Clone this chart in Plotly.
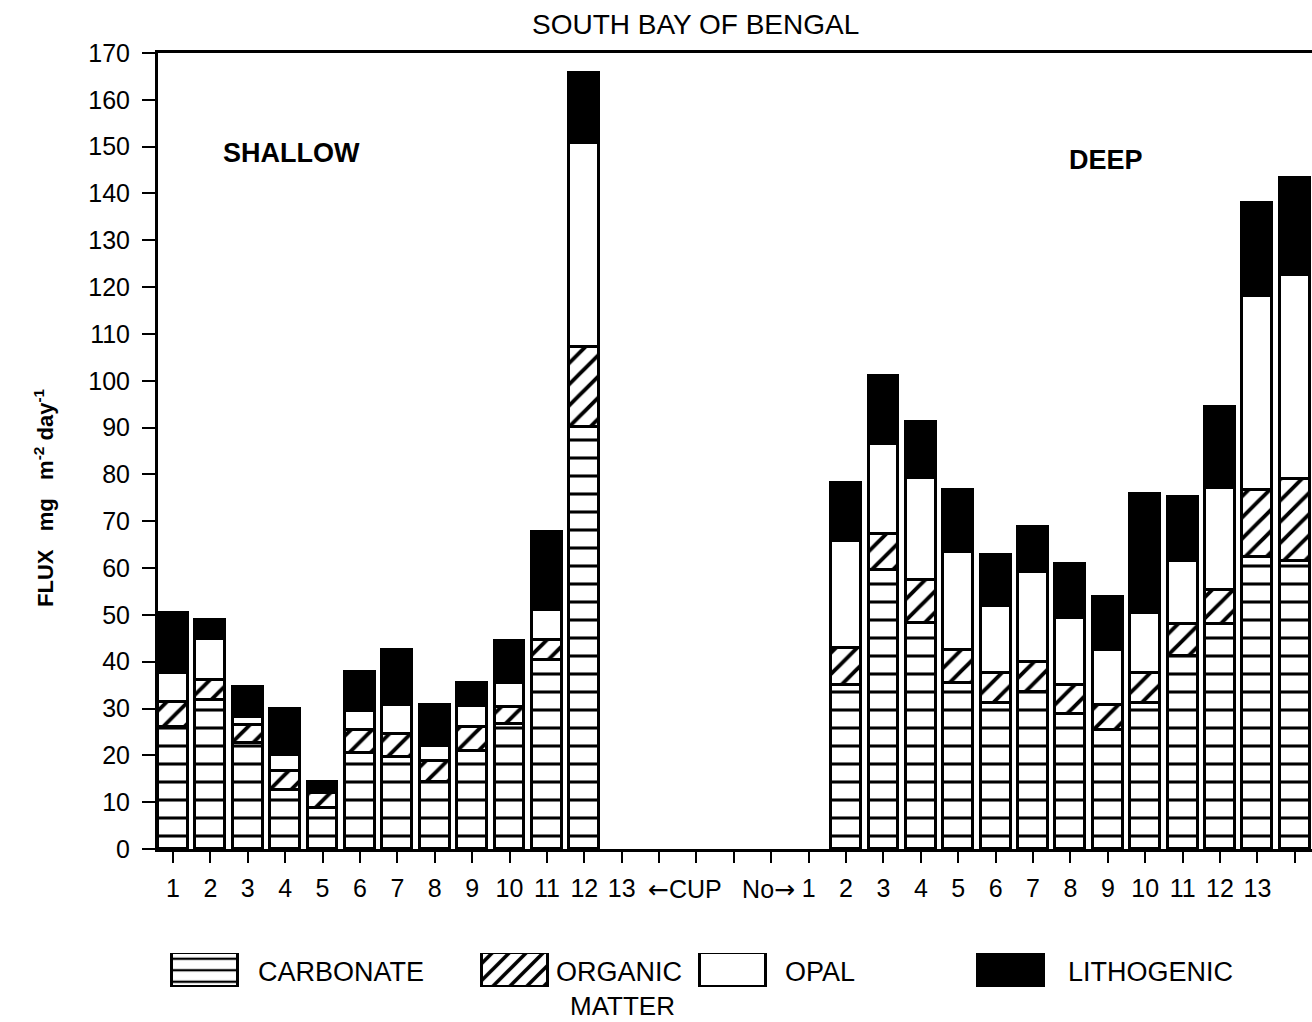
import plotly.graph_objects as go

# ---------------- data (mg m-2 day-1) ----------------
shallow_cups = [1, 2, 3, 4, 5, 6, 7, 8, 9, 10, 11, 12]
shallow_carbonate = [26.1, 31.8, 22.6, 12.7, 8.7, 20.4, 19.7, 14.4, 21.0, 26.8, 40.4, 90.2]
shallow_organic   = [5.2, 4.4, 3.9, 4.0, 3.2, 5.0, 4.9, 4.3, 5.1, 3.6, 4.2, 17.1]
shallow_opal      = [6.2, 8.6, 1.6, 3.4, 0.4, 4.1, 6.1, 3.4, 4.4, 5.0, 6.4, 43.4]
shallow_litho     = [12.8, 4.2, 6.6, 9.8, 2.0, 8.4, 11.8, 8.7, 4.9, 9.0, 16.7, 15.1]

deep_cups = [1, 2, 3, 4, 5, 6, 7, 8, 9, 10, 11, 12, 13]
deep_carbonate = [35.0, 59.5, 48.2, 35.5, 31.1, 33.6, 28.8, 25.4, 31.2, 41.3, 48.1, 62.3, 61.6]
deep_organic   = [8.0, 7.8, 9.3, 6.9, 6.4, 6.4, 6.2, 5.3, 6.3, 6.8, 7.2, 14.3, 17.4]
deep_opal      = [22.8, 19.2, 21.8, 21.1, 14.4, 19.1, 14.3, 11.8, 13.0, 13.5, 21.8, 41.4, 43.5]
deep_litho     = [12.4, 14.5, 11.9, 13.2, 10.9, 9.6, 11.6, 11.4, 25.3, 13.6, 17.4, 20.0, 20.8]

shallow_tick_labels = [str(i) for i in range(1, 14)]
deep_tick_labels = [str(i) for i in range(1, 14)]

component_names = ["CARBONATE", "ORGANIC<br>MATTER", "OPAL", "LITHOGENIC"]

# ---------------- layout constants ----------------
W, H = 1312, 1022
DEEP_BAR_OFFSET = 18      # deep bar k drawn at slot k + 18
DEEP_LABEL_OFFSET = 17    # deep label k drawn at slot k + 17
FONT = "Liberation Sans Narrow, Liberation Sans, Arial, sans-serif"
FONT_W = "Liberation Sans, Arial, sans-serif"

x_pos = shallow_cups + [c + DEEP_BAR_OFFSET for c in deep_cups]
series = [
    shallow_carbonate + deep_carbonate,
    shallow_organic + deep_organic,
    shallow_opal + deep_opal,
    shallow_litho + deep_litho,
]
patterns = [
    dict(shape="-", size=18, solidity=0.17, fgcolor="black", bgcolor="white", fillmode="replace"),
    dict(shape="/", size=15, solidity=0.26, fgcolor="black", bgcolor="white", fillmode="replace"),
    dict(shape="", bgcolor="white"),
    dict(shape="", bgcolor="black"),
]
fills = ["white", "white", "white", "black"]

fig = go.Figure()
for name, vals, pat, fc in zip(component_names, series, patterns, fills):
    fig.add_trace(go.Bar(
        x=x_pos, y=vals, name=name, width=0.8,
        marker=dict(color=fc, pattern=pat, line=dict(color="black", width=3)),
        showlegend=False,
    ))

# legend swatches drawn as bars on a hidden inset axis (pixel units)
legend_centers = [205, 514.5, 733, 1011]
legend_patterns = [
    dict(shape="-", size=11.5, solidity=0.2, fgcolor="black", bgcolor="white", fillmode="replace"),
    dict(shape="/", size=12, solidity=0.3, fgcolor="black", bgcolor="white", fillmode="replace"),
    dict(shape="", bgcolor="white"),
    dict(shape="", bgcolor="black"),
]
for cx, pat, fc in zip(legend_centers, legend_patterns, fills):
    fig.add_trace(go.Bar(
        x=[cx], y=[1], width=66, xaxis="x2", yaxis="y2",
        marker=dict(color=fc, pattern=pat, line=dict(color="black", width=3)),
        showlegend=False, hoverinfo="skip",
    ))

tickvals = list(range(1, 32))
ticktext = []
for v in tickvals:
    if 1 <= v <= 13:
        ticktext.append(shallow_tick_labels[v - 1])
    elif 1 <= v - DEEP_LABEL_OFFSET <= 13:
        ticktext.append(deep_tick_labels[v - DEEP_LABEL_OFFSET - 1])
    else:
        ticktext.append("")

def px_x(p):
    return p / W

def px_y(p):
    return (H - p) / H

fig.update_layout(
    width=W, height=H,
    margin=dict(l=0, r=0, t=0, b=0, autoexpand=False),
    paper_bgcolor="white", plot_bgcolor="white",
    barmode="stack", bargap=0,
    font=dict(family=FONT_W, color="black"),
    xaxis=dict(
        domain=[px_x(158), 1.0], range=[0.6, 31.46], automargin=False,
        tickmode="array", tickvals=tickvals, ticktext=ticktext,
        ticks="outside", ticklen=11, tickwidth=2, tickcolor="black",
        ticklabelstandoff=4,
        showline=True, linewidth=3, linecolor="black", mirror=True,
        showgrid=False, zeroline=False,
        tickfont=dict(family=FONT_W, size=25, color="black"),
    ),
    yaxis=dict(
        domain=[px_y(849), px_y(53)], range=[0, 170], automargin=False,
        tickmode="linear", tick0=0, dtick=10,
        ticks="outside", ticklen=13, tickwidth=2, tickcolor="black",
        ticklabelstandoff=7,
        showline=True, linewidth=3, linecolor="black",
        showgrid=False, zeroline=False,
        tickfont=dict(family=FONT_W, size=25, color="black"),
    ),
    xaxis2=dict(domain=[0, 1], range=[0, W], visible=False, anchor="y2", automargin=False),
    yaxis2=dict(domain=[px_y(987), px_y(953)], range=[0, 1], visible=False, anchor="x2",
                automargin=False),
)

ARROW = '<span style="font-family:DejaVu Sans">{}</span>'
annos = [
    dict(text="SOUTH BAY OF BENGAL", x=695, y=25, size=28, fam=FONT),
    dict(text="<b>SHALLOW</b>", x=291, y=153, size=27, fam=FONT_W),
    dict(text="<b>DEEP</b>", x=1106, y=160, size=27, fam=FONT_W),
    dict(text=ARROW.format("\u2190") + "CUP   No" + ARROW.format("\u2192"), x=721, y=889,
         size=25, fam=FONT_W),
    dict(text="CARBONATE", x=341, y=972, size=27, fam=FONT),
    dict(text="ORGANIC", x=619, y=972, size=27, fam=FONT),
    dict(text="MATTER", x=622, y=1006, size=26, fam=FONT),
    dict(text="OPAL", x=820, y=972, size=27, fam=FONT),
    dict(text="LITHOGENIC", x=1150, y=972, size=27, fam=FONT),
]
for a in annos:
    fig.add_annotation(
        text=a["text"], x=px_x(a["x"]), y=px_y(a["y"]), xref="paper", yref="paper",
        xanchor="center", yanchor="middle", showarrow=False,
        font=dict(family=a["fam"], size=a["size"], color="black"),
    )

fig.add_annotation(
    text="<b>FLUX   mg   m<sup>-2</sup> day<sup>-1</sup></b>",
    x=px_x(44), y=px_y(498), xref="paper", yref="paper",
    xanchor="center", yanchor="middle", textangle=-90, showarrow=False,
    font=dict(family=FONT_W, size=22, color="black"),
)

fig.write_html(
    "out.html",
    config={"displayModeBar": False},
    post_script="document.body.style.margin='0px';document.body.style.overflow='hidden';",
)
